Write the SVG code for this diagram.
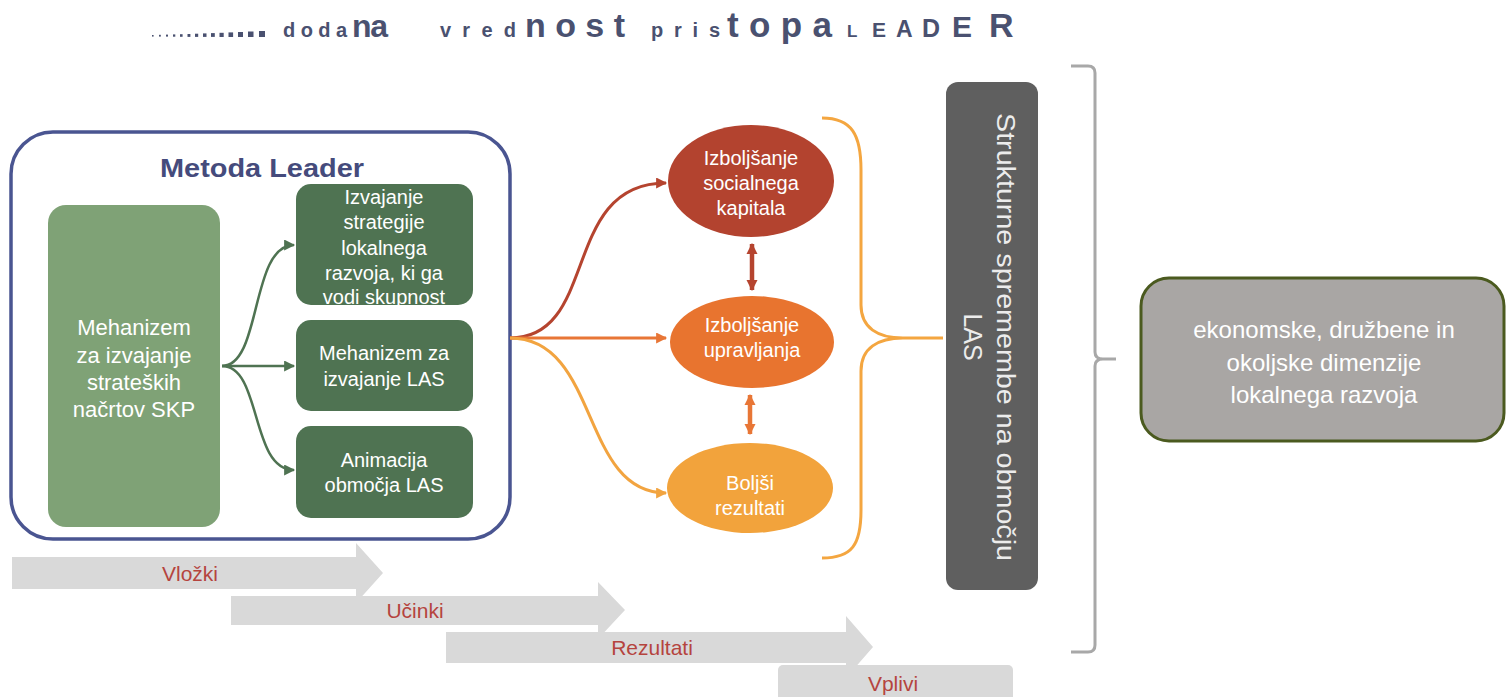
<svg xmlns="http://www.w3.org/2000/svg" width="1506" height="697" viewBox="0 0 1506 697">
<style>
.t{font-family:"Liberation Sans",Arial,sans-serif;}
.ttl{font-family:"Liberation Sans",Arial,sans-serif;font-weight:bold;fill:#4a5170;}
.wt{fill:#ffffff;text-anchor:middle;font-family:"Liberation Sans",Arial,sans-serif;}
.gb{fill:#4f7352;}
.bar{fill:#d9d9d9;}
.bl{fill:#b5443e;font-family:"Liberation Sans",Arial,sans-serif;font-size:21px;text-anchor:middle;}
.cg{fill:none;stroke:#4f7352;stroke-width:2.5;}
</style>
<defs>
<marker id="mg" viewBox="0 0 10 10" refX="9" refY="5" markerWidth="12" markerHeight="11" markerUnits="userSpaceOnUse" orient="auto"><path d="M0,0 L10,5 L0,10 z" fill="#4f7352"/></marker>
<marker id="mr" viewBox="0 0 10 10" refX="9" refY="5" markerWidth="13" markerHeight="11" markerUnits="userSpaceOnUse" orient="auto"><path d="M0,0 L10,5 L0,10 z" fill="#b5442f"/></marker>
<marker id="mo" viewBox="0 0 10 10" refX="9" refY="5" markerWidth="13" markerHeight="11" markerUnits="userSpaceOnUse" orient="auto"><path d="M0,0 L10,5 L0,10 z" fill="#e87636"/></marker>
<marker id="my" viewBox="0 0 10 10" refX="9" refY="5" markerWidth="13" markerHeight="11" markerUnits="userSpaceOnUse" orient="auto"><path d="M0,0 L10,5 L0,10 z" fill="#f2a440"/></marker>
<marker id="dr" viewBox="0 0 10 10" refX="9" refY="5" markerWidth="11" markerHeight="14" markerUnits="userSpaceOnUse" orient="auto-start-reverse"><path d="M0,0 L10,5 L0,10 z" fill="#b5442f"/></marker>
<marker id="do" viewBox="0 0 10 10" refX="9" refY="5" markerWidth="11" markerHeight="14" markerUnits="userSpaceOnUse" orient="auto-start-reverse"><path d="M0,0 L10,5 L0,10 z" fill="#e87636"/></marker>
</defs>

<g id="title">
<g fill="#4a5170">
<rect x="152" y="35" width="1.6" height="1.6"/><rect x="159" y="34.8" width="1.8" height="1.8"/><rect x="166" y="34.6" width="2" height="2"/><rect x="173" y="34.4" width="2.3" height="2.3"/><rect x="180" y="34.2" width="2.6" height="2.6"/><rect x="187.5" y="34" width="2.9" height="2.9"/><rect x="195" y="33.7" width="3.2" height="3.2"/><rect x="203" y="33.4" width="3.5" height="3.5"/><rect x="211" y="33.1" width="3.8" height="3.8"/><rect x="219.5" y="32.8" width="4.2" height="4.2"/><rect x="228.5" y="32.4" width="4.6" height="4.6"/><rect x="238" y="32" width="5" height="5"/><rect x="248" y="31.5" width="5.5" height="5.5"/><rect x="259" y="31" width="6" height="6"/>
</g>
<text class="ttl" x="283" y="37" font-size="20" textLength="64" lengthAdjust="spacing">doda</text>
<text class="ttl" x="352" y="37" font-size="32" textLength="36" lengthAdjust="spacing">na</text>
<text class="ttl" x="440" y="37" font-size="20" textLength="76" lengthAdjust="spacing">vred</text>
<text class="ttl" x="525" y="37" font-size="34" textLength="100" lengthAdjust="spacing">nost</text>
<text class="ttl" x="651" y="37" font-size="20" textLength="69" lengthAdjust="spacing">pris</text>
<text class="ttl" x="727" y="37" font-size="35" textLength="105" lengthAdjust="spacing">topa</text>
<text class="ttl" x="847" y="37" font-size="17">L</text>
<text class="ttl" x="872" y="37" font-size="21">E</text>
<text class="ttl" x="896" y="37" font-size="23">A</text>
<text class="ttl" x="922" y="37" font-size="25">D</text>
<text class="ttl" x="952" y="37" font-size="30">E</text>
<text class="ttl" x="989" y="37" font-size="34">R</text>
</g>

<g id="metoda-leader">
<rect x="11" y="132" width="499" height="407" rx="42" fill="#ffffff" stroke="#4a5591" stroke-width="3.5"/>
<text class="t" x="262" y="177" font-size="25" font-weight="bold" fill="#454b7c" text-anchor="middle" textLength="204" lengthAdjust="spacingAndGlyphs">Metoda Leader</text>
</g>

<g id="mehanizem-skp">
<rect x="48" y="205" width="172" height="322" rx="18" fill="#7fa276"/>
<text class="wt" font-size="22"><tspan x="134" y="335">Mehanizem</tspan><tspan x="134" y="363">za izvajanje</tspan><tspan x="134" y="390">strateških</tspan><tspan x="134" y="417">načrtov SKP</tspan></text>
</g>

<g id="izvajanje-strategije">
<rect class="gb" x="296" y="184" width="177" height="121" rx="15"/>
<text class="wt" font-size="20"><tspan x="384" y="204">Izvajanje</tspan><tspan x="384" y="229">strategije</tspan><tspan x="384" y="255">lokalnega</tspan><tspan x="384" y="280">razvoja, ki ga</tspan><tspan x="384" y="304">vodi skupnost</tspan></text>
</g>

<g id="mehanizem-las">
<rect class="gb" x="296" y="320" width="177" height="91" rx="15"/>
<text class="wt" font-size="20"><tspan x="384" y="360">Mehanizem za</tspan><tspan x="384" y="386">izvajanje LAS</tspan></text>
</g>

<g id="animacija">
<rect class="gb" x="296" y="426" width="177" height="92" rx="15"/>
<text class="wt" font-size="20"><tspan x="384" y="467">Animacija</tspan><tspan x="384" y="492">območja LAS</tspan></text>
</g>

<g id="socialni-kapital">
<ellipse cx="751" cy="181" rx="83" ry="56" fill="#b3432f"/>
<text class="wt" font-size="20"><tspan x="751" y="165">Izboljšanje</tspan><tspan x="751" y="190">socialnega</tspan><tspan x="751" y="215">kapitala</tspan></text>
</g>

<g id="upravljanje">
<ellipse cx="752" cy="342" rx="82" ry="46" fill="#e8742f"/>
<text class="wt" font-size="20"><tspan x="752" y="332">Izboljšanje</tspan><tspan x="752" y="357">upravljanja</tspan></text>
</g>

<g id="rezultati">
<ellipse cx="750" cy="488" rx="83" ry="45" fill="#f2a33c"/>
<text class="wt" font-size="20"><tspan x="750" y="490">Boljši</tspan><tspan x="750" y="515">rezultati</tspan></text>
</g>

<g id="strukturne-spremembe">
<rect x="946" y="82" width="92" height="508" rx="12" fill="#5f5f5f"/>
<g transform="translate(1006,337) rotate(90)">
<text class="t" fill="#ececec" font-size="25" text-anchor="middle"><tspan x="0" y="9" textLength="448" lengthAdjust="spacingAndGlyphs">Strukturne spremembe na območju</tspan><tspan x="0" y="42">LAS</tspan></text>
</g>
</g>

<g id="dimenzije">
<rect x="1141" y="278" width="363" height="163" rx="28" fill="#a9a6a4" stroke="#4b5a1f" stroke-width="3"/>
<text class="wt" font-size="24"><tspan x="1324" y="338">ekonomske, družbene in</tspan><tspan x="1324" y="371">okoljske dimenzije</tspan><tspan x="1324" y="403">lokalnega razvoja</tspan></text>
</g>

<g id="faze">
<path class="bar" d="M12,557 L356,557 L356,543 L383,573 L356,603 L356,589 L12,589 z"/>
<path class="bar" d="M231,596 L598,596 L598,582 L625,610 L598,639 L598,625 L231,625 z"/>
<path class="bar" d="M446,632 L846,632 L846,616 L873,647 L846,678 L846,663 L446,663 z"/>
<rect class="bar" x="778" y="665" width="235" height="40" rx="5"/>
<text class="bl" x="190" y="581">Vložki</text>
<text class="bl" x="415" y="618">Učinki</text>
<text class="bl" x="652" y="655">Rezultati</text>
<text class="bl" x="893" y="691">Vplivi</text>
</g>

<g id="connectors">
<path class="cg" d="M222,366 C262,366 250,245 294,245" marker-end="url(#mg)"/>
<path class="cg" d="M222,366 L294,366" marker-end="url(#mg)"/>
<path class="cg" d="M222,366 C262,366 250,470 294,470" marker-end="url(#mg)"/>
<path d="M510,338 C600,338 560,183 666,183" fill="none" stroke="#b5442f" stroke-width="3" marker-end="url(#mr)"/>
<path d="M510,338 L666,338" fill="none" stroke="#e87636" stroke-width="3" marker-end="url(#mo)"/>
<path d="M510,338 C600,338 580,493 666,493" fill="none" stroke="#f2a440" stroke-width="3" marker-end="url(#my)"/>
<path d="M752,244 L752,290" stroke="#b5442f" stroke-width="4.5" marker-start="url(#dr)" marker-end="url(#dr)"/>
<path d="M750,395 L750,434" stroke="#e87636" stroke-width="4.5" marker-start="url(#do)" marker-end="url(#do)"/>
<path d="M822,118 C852,118 861,135 861,170 L861,305 C861,328 878,338 903,338 L943,338 M903,338 C878,338 861,348 861,371 L861,510 C861,545 852,558 822,558" fill="none" stroke="#f4a640" stroke-width="3"/>
<path d="M1071,66 L1088,66 Q1095,66 1095,73 L1095,352 Q1095,359 1103,359 L1116,359 M1103,359 Q1095,359 1095,366 L1095,645 Q1095,652 1088,652 L1071,652" fill="none" stroke="#a8a8a8" stroke-width="3"/>
</g>
</svg>
